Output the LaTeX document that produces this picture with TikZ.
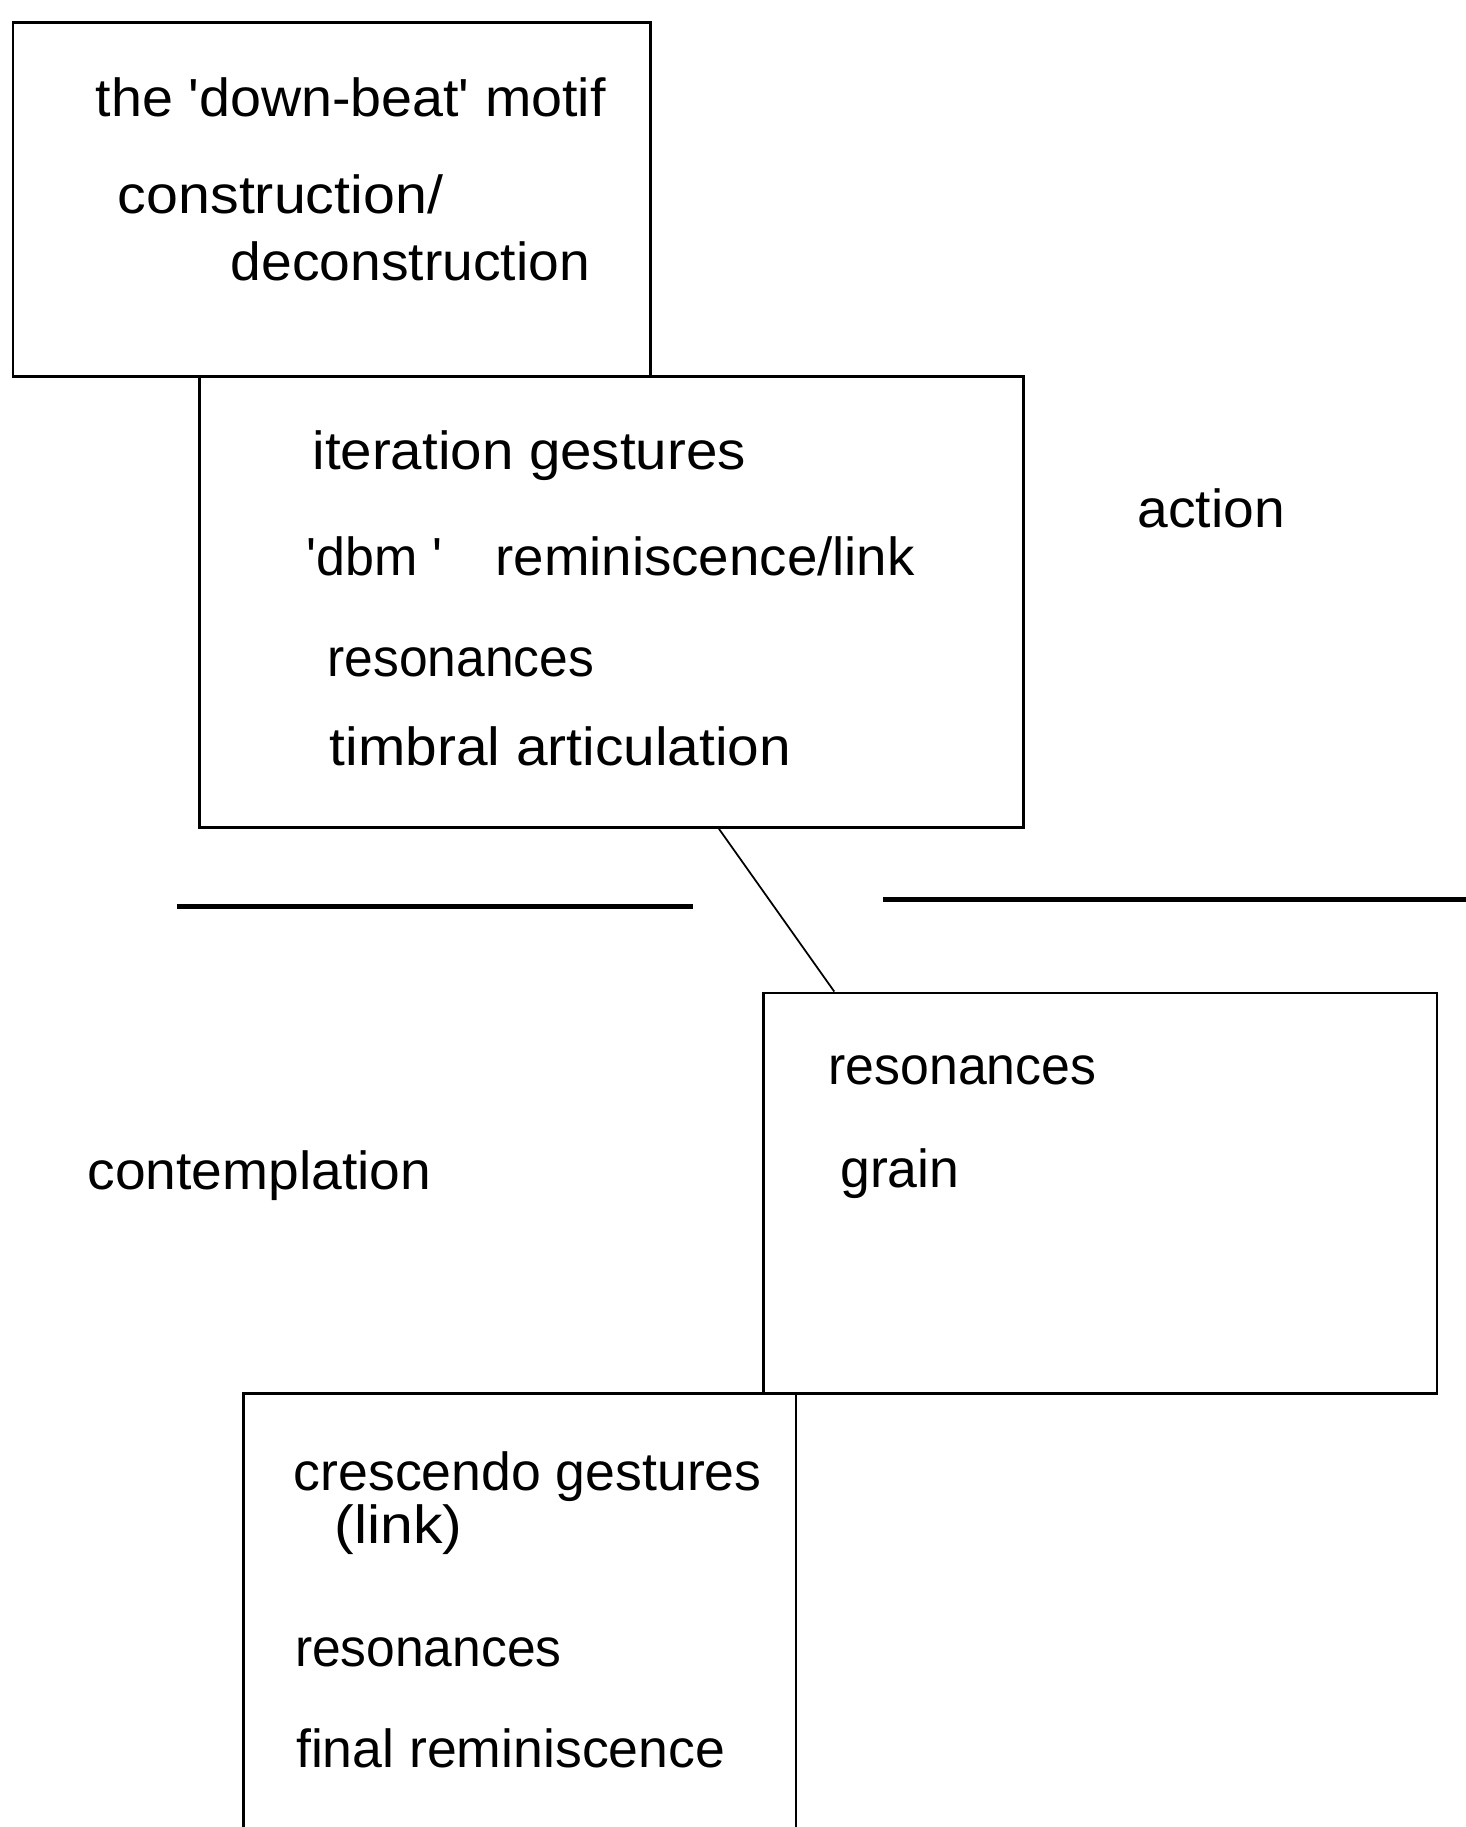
\documentclass[tikz,border=0pt]{standalone}
\usepackage{graphicx}
\usepackage{fontspec}
\newfontfamily\labfont{Liberation Sans}[Ligatures=CommonOff]
\newcommand\hsx[2]{\scalebox{#1}[1]{#2}}
\usetikzlibrary{calc}
\begin{document}
\begin{tikzpicture}[x=1pt,y=-1pt,
  box/.style={draw, line width=2.3pt, inner sep=0pt, anchor=north west},
  lab/.style={anchor=base west, inner sep=0pt, font=\labfont\fontsize{46}{50}\selectfont},
  rulerline/.style={line width=4pt},
  linkline/.style={line width=1.5pt}]
\useasboundingbox (0,0) rectangle (1258,1568);
\clip (0,0) rectangle (1258,1568);
% boxes
\node[box, minimum width=547pt, minimum height=304pt] (b1) at (10,18) {};
\node[box, minimum width=707pt, minimum height=387pt] (b2) at (170,322) {};
\node[box, minimum width=578pt, minimum height=344pt] (b3) at (654,851) {};
\node[box, minimum width=474pt, minimum height=440pt] (b4) at (208,1195) {};
% connector
\coordinate (c1) at ($(b2.south west)+(447,0)$);
\coordinate (c2) at ($(b3.north west)+(62,0)$);
\draw[linkline] (c1) -- (c2);
% horizontal rules
\coordinate (r1a) at (152,778);
\coordinate (r1b) at (595,778);
\coordinate (r2a) at (758,772);
\coordinate (r2b) at (1258,772);
\draw[rulerline] (r1a) -- (r1b);
\draw[rulerline] (r2a) -- (r2b);
% box 1 text
\node[lab] (t1) at (82,100) {\hsx{1.038}{the 'down-beat' motif}};
\node[lab] (t2) at (101,183) {\hsx{1.07}{construction/}};
\node[lab] (t3) at (198,241) {\hsx{1.03}{deconstruction}};
% box 2 text
\node[lab] (t4) at (268,403) {\hsx{1.054}{iteration gestures}};
\node[lab] (t5) at (263,494) {\hsx{0.97}{'dbm '}};
\node[lab] (t6) at (425,494) {\hsx{1.02}{reminiscence/link}};
\node[lab] (t7) at (281,581) {\hsx{0.962}{resonances}};
\node[lab] (t8) at (283,657) {\hsx{1.06}{timbral articulation}};
% free labels
\node[lab] (t9) at (976,453) {\hsx{1.03}{action}};
\node[lab] (t10) at (75,1021) {\hsx{1.03}{contemplation}};
% box 3 text
\node[lab] (t11) at (711,931) {\hsx{0.966}{resonances}};
\node[lab] (t12) at (721,1019) {grain};
% box 4 text
\node[lab] (t13) at (252,1279) {crescendo gestures};
\node[lab] (t14) at (287,1325) {\hsx{1.1}{(link)}};
\node[lab] (t15) at (253,1430) {\hsx{0.962}{resonances}};
\node[lab] (t16) at (254,1517) {final reminiscence};
\end{tikzpicture}
\end{document}
